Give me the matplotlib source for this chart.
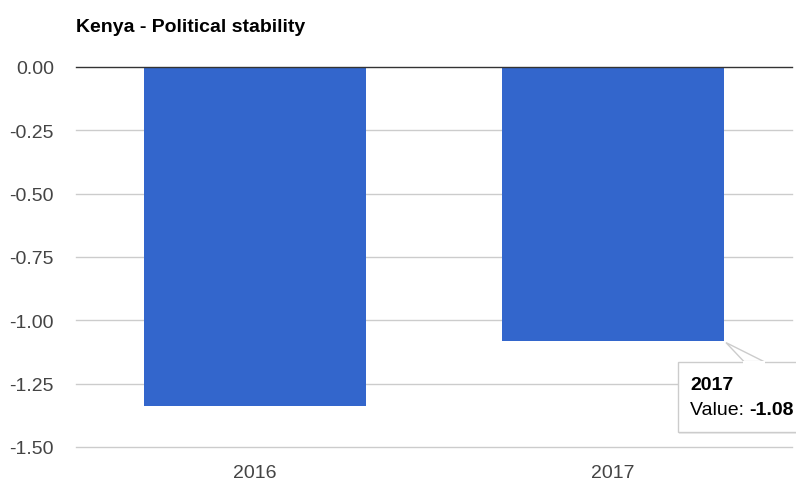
import matplotlib
matplotlib.use("Agg")
import matplotlib.pyplot as plt
from matplotlib.patches import Rectangle, Polygon
from matplotlib.text import Annotation

plt.rcParams['font.family'] = ['Liberation Sans', 'DejaVu Sans']

title = "Kenya - Political stability"
years = ["2016", "2017"]
values = [-1.34, -1.08]
yticks = [0.0, -0.25, -0.5, -0.75, -1.0, -1.25, -1.5]
tip_index = 1

bar_color = "#3366cc"
grid_color = "#cccccc"
label_color = "#444444"

fig = plt.figure(figsize=(7.96, 4.81), dpi=100)
ax = fig.add_axes([76 / 796, 33 / 481, 716 / 796, 380 / 481])

x = list(range(len(years)))
bar_w = 0.62
ax.bar(x, values, width=bar_w, color=bar_color, zorder=3)

ax.set_xlim(-0.5, len(years) - 0.5)
ax.set_ylim(min(yticks), max(yticks))
ax.set_yticks(yticks)
ax.set_yticklabels([f"{v:.2f}" for v in yticks])
ax.set_xticks(x)
ax.set_xticklabels(years)
ax.tick_params(axis='both', length=0, labelsize=14, colors=label_color)
ax.tick_params(axis='y', pad=16)
ax.tick_params(axis='x', pad=12)
for s in ax.spines.values():
    s.set_visible(False)

for v in yticks:
    if v == 0:
        ax.axhline(v, color="#333333", lw=1.0, zorder=4, clip_on=False)
    else:
        ax.axhline(v, color=grid_color, lw=1.0, zorder=1, clip_on=False)

fig.text(76 / 796, 1 - 27 / 481, title, fontsize=14, fontweight='bold',
         va='center', ha='left', color='black')

# tooltip anchored at the bottom-right corner of the highlighted bar (pixel offsets)
cx = x[tip_index] + bar_w / 2
cy = values[tip_index]
ox, oy = ax.transData.transform((cx, cy))
bx, by = ox - 46, oy - 91
bw, bh = 180, 70

shadow = Rectangle((bx + 1, by - 2), bw, bh, transform=None, clip_on=False, zorder=5,
                   facecolor='black', alpha=0.07, edgecolor='none')
box = Rectangle((bx, by), bw, bh, transform=None, clip_on=False, zorder=6,
                facecolor='white', edgecolor=grid_color, lw=1)
tri = Polygon([(ox + 2, oy - 2), (ox + 20, by + bh), (ox + 40, by + bh)],
              closed=True, transform=None, facecolor='white', edgecolor=grid_color,
              lw=1, clip_on=False, zorder=7)
cover = Rectangle((ox + 19, by + bh - 2), 22, 3, transform=None, facecolor='white',
                  edgecolor='none', clip_on=False, zorder=8)
fig.patches.extend([shadow, box, tri, cover])

t1 = fig.text(ox - 34, oy - 44, years[tip_index], transform=None, fontsize=14,
              fontweight='bold', va='center', ha='left', color='black', zorder=9)
t2 = fig.text(ox - 34, oy - 69, "Value: ", transform=None, fontsize=14,
              va='center', ha='left', color='black', zorder=9)
t3 = Annotation(f"{values[tip_index]:.2f}", xy=(1, 0.5), xycoords=t2, va='center',
                ha='left', fontsize=14, fontweight='bold', color='black', zorder=9)
fig.add_artist(t3)

fig.savefig("out.png", dpi=100)
